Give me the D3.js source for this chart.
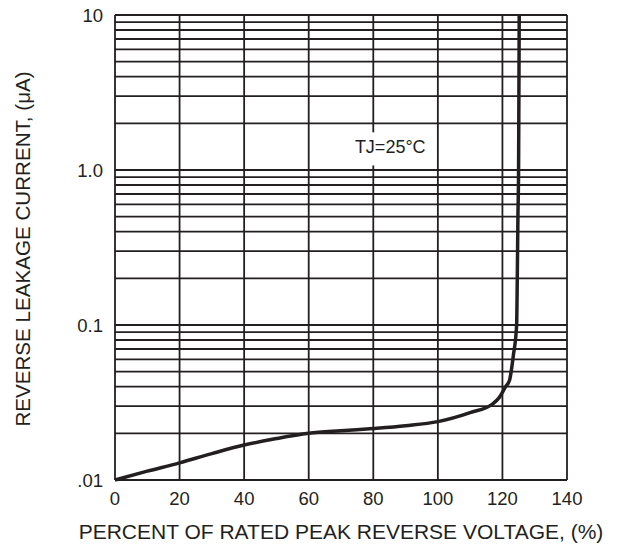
<!DOCTYPE html>
<html>
<head>
<meta charset="utf-8">
<script src="https://cdn.jsdelivr.net/npm/d3@7"></script>
<style>
  body { margin: 0; background: #fff; }
  svg { display: block; font-family: "Liberation Sans", Arial, sans-serif; }
</style>
</head>
<body>
<div id="chart"></div>
<script>
// data
const pct = [0, 10, 20, 30, 40, 50, 60, 70, 80, 90, 100, 110, 117, 119, 121, 122.2, 123.4, 124.4, 124.6, 124.8, 125, 125.1, 125.2]
const leakage = [0.01, 0.0114, 0.0129, 0.0148, 0.0168, 0.0185, 0.0200, 0.0208, 0.0215, 0.0224, 0.0238, 0.0272, 0.031, 0.034, 0.040, 0.044, 0.064, 0.1, 0.2, 0.5, 1.0, 3, 10]
const xTicks = [0, 20, 40, 60, 80, 100, 120, 140]
const yTicks = [0.01, 0.1, 1, 10]
const yTickLabels = ['.01', '0.1', '1.0', '10']
const note = 'TJ=25°C'

const width = 621
const height = 546
const margin = {top: 15, right: 54, bottom: 66, left: 115}
const ink = '#231f20'

const svg = d3.select('#chart')
              .append('svg')
              .attr('width', width)
              .attr('height', height)

const x = d3.scaleLinear()
            .domain([0, 140])
            .range([margin.left, width - margin.right])

const y = d3.scaleLog()
            .domain([0.01, 10])
            .range([height - margin.bottom, margin.top])

// minor log grid: 1..9 in every decade
let yGrid = []
yTicks.slice(0, -1).forEach(d => {
    for (let k = 1; k < 10; k++) yGrid.push(d * k)
})
yGrid.push(yTicks[yTicks.length - 1])

svg.append('g')
   .selectAll('line')
   .data(yGrid)
   .enter()
   .append('line')
   .attr('x1', x(0))
   .attr('x2', x(140))
   .attr('y1', d => y(d))
   .attr('y2', d => y(d))
   .style('stroke', ink)
   .style('stroke-width', 1.8)

svg.append('g')
   .selectAll('line')
   .data(xTicks)
   .enter()
   .append('line')
   .attr('x1', d => x(d))
   .attr('x2', d => x(d))
   .attr('y1', y(10))
   .attr('y2', y(0.01))
   .style('stroke', ink)
   .style('stroke-width', 1.8)

// note with a white box behind it
const noteG = svg.append('g')
noteG.append('rect')
     .attr('x', x(73))
     .attr('y', y(1.75))
     .attr('width', x(97) - x(73))
     .attr('height', y(1.07) - y(1.75))
     .style('fill', '#fff')
noteG.append('text')
     .attr('x', x(74.3))
     .attr('y', 153)
     .text(note)
     .style('font-size', '18px')
     .style('fill', ink)

const line = d3.line()
               .x((d, i) => x(pct[i]))
               .y(d => y(d))
               .curve(d3.curveMonotoneX)

svg.append('path')
   .attr('d', line(leakage))
   .style('fill', 'none')
   .style('stroke', ink)
   .style('stroke-width', 3.5)
   .style('stroke-linejoin', 'round')

// tick labels
svg.append('g')
   .selectAll('text')
   .data(xTicks)
   .enter()
   .append('text')
   .attr('x', d => x(d))
   .attr('y', 505)
   .attr('text-anchor', 'middle')
   .text(d => d)
   .style('font-size', '18.5px')
   .style('fill', ink)

svg.append('g')
   .selectAll('text')
   .data(yTicks)
   .enter()
   .append('text')
   .attr('x', 103)
   .attr('y', d => y(d))
   .attr('dy', '0.36em')
   .attr('text-anchor', 'end')
   .text((d, i) => yTickLabels[i])
   .style('font-size', '18.5px')
   .style('fill', ink)

// axis titles
svg.append('text')
   .attr('x', (x(0) + x(140)) / 2)
   .attr('y', 539)
   .attr('text-anchor', 'middle')
   .text('PERCENT OF RATED PEAK REVERSE VOLTAGE, (%)')
   .style('font-size', '21px')
   .style('fill', ink)

svg.append('text')
   .attr('transform', `translate(30, 249) rotate(-90)`)
   .attr('text-anchor', 'middle')
   .text('REVERSE LEAKAGE CURRENT, (μA)')
   .style('font-size', '20.6px')
   .style('fill', ink)
</script>
</body>
</html>
